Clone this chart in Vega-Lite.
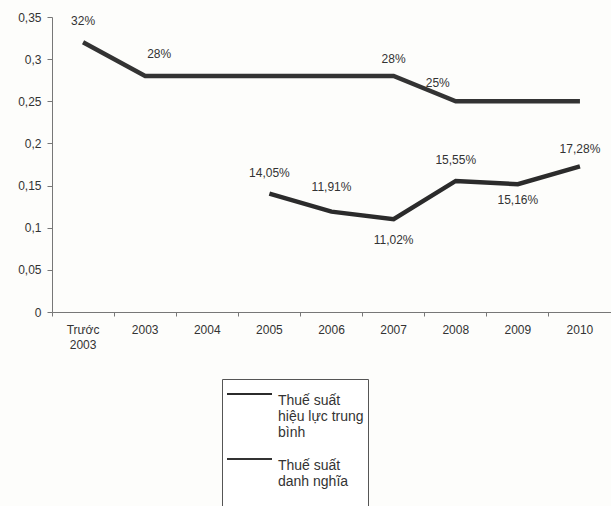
{
  "$schema": "https://vega.github.io/schema/vega-lite/v6.json",
  "width": 559,
  "height": 295,
  "autosize": "none",
  "padding": {"left": 52, "top": 17, "right": 0, "bottom": 194},
  "background": "#fdfdfb",
  "config": {
    "view": {"stroke": null},
    "font": "Liberation Sans",
    "text": {"font": "Liberation Sans"}
  },
  "data": {
    "values": [
      {"year": "Trước 2003", "series": "Thuế suất danh nghĩa", "value": 0.32, "label": "32%"},
      {"year": "2003", "series": "Thuế suất danh nghĩa", "value": 0.28, "label": "28%"},
      {"year": "2004", "series": "Thuế suất danh nghĩa", "value": 0.28, "label": ""},
      {"year": "2005", "series": "Thuế suất danh nghĩa", "value": 0.28, "label": ""},
      {"year": "2006", "series": "Thuế suất danh nghĩa", "value": 0.28, "label": ""},
      {"year": "2007", "series": "Thuế suất danh nghĩa", "value": 0.28, "label": "28%"},
      {"year": "2008", "series": "Thuế suất danh nghĩa", "value": 0.25, "label": "25%"},
      {"year": "2009", "series": "Thuế suất danh nghĩa", "value": 0.25, "label": ""},
      {"year": "2010", "series": "Thuế suất danh nghĩa", "value": 0.25, "label": ""},
      {"year": "2005", "series": "Thuế suất hiệu lực trung bình", "value": 0.1405, "label": "14,05%"},
      {"year": "2006", "series": "Thuế suất hiệu lực trung bình", "value": 0.1191, "label": "11,91%"},
      {"year": "2007", "series": "Thuế suất hiệu lực trung bình", "value": 0.1102, "label": "11,02%"},
      {"year": "2008", "series": "Thuế suất hiệu lực trung bình", "value": 0.1555, "label": "15,55%"},
      {"year": "2009", "series": "Thuế suất hiệu lực trung bình", "value": 0.1516, "label": "15,16%"},
      {"year": "2010", "series": "Thuế suất hiệu lực trung bình", "value": 0.1728, "label": "17,28%"}
    ]
  },
  "encoding": {
    "x": {
      "field": "year",
      "type": "nominal",
      "sort": ["Trước 2003", "2003", "2004", "2005", "2006", "2007", "2008", "2009", "2010"],
      "scale": {"type": "band", "paddingInner": 0, "paddingOuter": 0},
      "axis": {
        "title": null,
        "labelAngle": 0,
        "bandPosition": 0,
        "domainColor": "#777",
        "tickColor": "#777",
        "tickSize": 4,
        "labelFontSize": 12,
        "labelColor": "#333",
        "labelPadding": 8,
        "labelLineHeight": 15,
        "labelExpr": "datum.label == 'Trước 2003' ? ['Trước', '2003'] : datum.label"
      }
    },
    "y": {
      "field": "value",
      "type": "quantitative",
      "scale": {"domain": [0, 0.35], "nice": false},
      "axis": {
        "title": null,
        "values": [0, 0.05, 0.1, 0.15, 0.2, 0.25, 0.3, 0.35],
        "grid": false,
        "domainColor": "#777",
        "tickColor": "#777",
        "tickSize": 5,
        "labelFontSize": 12,
        "labelColor": "#333",
        "labelPadding": 6,
        "labelExpr": "replace(format(datum.value, '~g'), '.', ',')"
      }
    }
  },
  "layer": [
    {
      "mark": {"type": "line", "strokeWidth": 4.5, "strokeJoin": "miter"},
      "encoding": {
        "color": {
          "field": "series",
          "type": "nominal",
          "scale": {
            "domain": ["Thuế suất hiệu lực trung bình", "Thuế suất danh nghĩa"],
            "range": ["#2b2b2b", "#333333"]
          },
          "legend": {
            "title": null,
            "orient": "none",
            "legendX": 170,
            "legendY": 362,
            "direction": "vertical",
            "symbolType": "M-1,0H3.5",
            "symbolStrokeWidth": 2,
            "symbolSize": 400,
            "labelFontSize": 14,
            "labelColor": "#333",
            "labelLimit": 0,
            "labelBaseline": "top",
            "labelOffset": 30,
            "labelExpr": "datum.label == 'Thuế suất hiệu lực trung bình' ? ['Thuế suất', 'hiệu lực trung', 'bình'] : ['Thuế suất', 'danh nghĩa', '', '']",
            "rowPadding": 8,
            "strokeColor": "#555",
            "padding": 4,
            "fillColor": "#ffffff"
          }
        }
      }
    },
    {
      "transform": [{"filter": "(datum.series == 'Thuế suất danh nghĩa' && datum.year == 'Trước 2003') || (datum.series == 'Thuế suất hiệu lực trung bình' && (datum.year == '2005' || datum.year == '2008'))"}],
      "mark": {"type": "text", "dy": -21, "fontSize": 12, "color": "#333"},
      "encoding": {"text": {"field": "label"}}
    },
    {
      "transform": [{"filter": "datum.series == 'Thuế suất hiệu lực trung bình' && datum.year == '2006'"}],
      "mark": {"type": "text", "dy": -25, "fontSize": 12, "color": "#333"},
      "encoding": {"text": {"field": "label"}}
    },
    {
      "transform": [{"filter": "datum.series == 'Thuế suất danh nghĩa' && datum.year == '2003'"}],
      "mark": {"type": "text", "dx": 14, "dy": -22, "fontSize": 12, "color": "#333"},
      "encoding": {"text": {"field": "label"}}
    },
    {
      "transform": [{"filter": "(datum.series == 'Thuế suất danh nghĩa' && datum.year == '2007') || (datum.series == 'Thuế suất hiệu lực trung bình' && datum.year == '2010')"}],
      "mark": {"type": "text", "dy": -17, "fontSize": 12, "color": "#333"},
      "encoding": {"text": {"field": "label"}}
    },
    {
      "transform": [{"filter": "datum.series == 'Thuế suất danh nghĩa' && datum.year == '2008'"}],
      "mark": {"type": "text", "dx": -18, "dy": -18, "fontSize": 12, "color": "#333"},
      "encoding": {"text": {"field": "label"}}
    },
    {
      "transform": [{"filter": "datum.series == 'Thuế suất hiệu lực trung bình' && datum.year == '2007'"}],
      "mark": {"type": "text", "dy": 21, "fontSize": 12, "color": "#333"},
      "encoding": {"text": {"field": "label"}}
    },
    {
      "transform": [{"filter": "datum.series == 'Thuế suất hiệu lực trung bình' && datum.year == '2009'"}],
      "mark": {"type": "text", "dy": 16, "fontSize": 12, "color": "#333"},
      "encoding": {"text": {"field": "label"}}
    }
  ]
}
